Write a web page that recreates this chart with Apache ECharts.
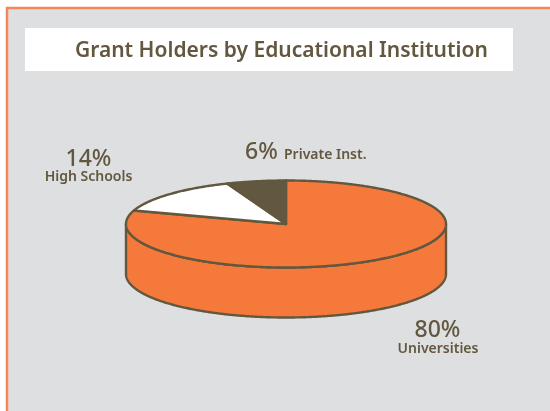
<!DOCTYPE html>
<html>
<head>
<meta charset="utf-8">
<style>html,body{margin:0;padding:0;background:#fff}#chart{width:550px;height:411px}</style>
<script src="https://cdn.jsdelivr.net/npm/echarts@6/dist/echarts.min.js"></script>
</head>
<body>
<div id="chart"></div>
<script>
// Share of grant holders per institution type, clockwise from twelve o'clock
const institutions = ['Universities', 'High Schools', 'Private Inst.'];
const shares = [80, 14, 6];
const sliceColors = ['#F5793B', '#FFFFFF', '#62573F'];
const chartTitle = 'Grant Holders by Educational Institution';

const INK = '#62573F';
const FONT = '"Noto Sans", "Open Sans", sans-serif';
const PIE = { cx: 286, cy: 224, rx: 160, ry: 43.5, depth: 50 };

// Cumulative start of every slice, used to place it around the disc
const starts = shares.map((_, i) => shares.slice(0, i).reduce((a, b) => a + b, 0));
const total = shares.reduce((a, b) => a + b, 0);

function rimPoint(deg, drop) {
  const t = deg * Math.PI / 180;
  return [PIE.cx + PIE.rx * Math.sin(t), PIE.cy - PIE.ry * Math.cos(t) + (drop || 0)];
}
function arcPoints(from, to, drop) {
  const pts = [];
  const steps = Math.max(2, Math.ceil(Math.abs(to - from) * 2));
  for (let i = 0; i <= steps; i++) pts.push(rimPoint(from + (to - from) * i / steps, drop));
  return pts;
}

function renderSlice(params, api) {
  const share = api.value(0);
  const start = api.value(1);
  const a0 = start / total * 360;
  const a1 = (start + share) / total * 360;
  const fill = sliceColors[params.dataIndex];
  const style = { fill, stroke: INK, lineWidth: 2.4, lineJoin: 'round' };
  const children = [];

  // Side wall: only the front half of the rim faces the viewer
  const w0 = Math.max(a0, 90);
  const w1 = Math.min(a1, 270);
  if (w1 > w0) {
    children.push({
      type: 'polygon',
      shape: { points: arcPoints(w0, w1, 0).concat(arcPoints(w1, w0, PIE.depth)) },
      style
    });
  }
  // Top face wedge
  children.push({
    type: 'polygon',
    shape: { points: [[PIE.cx, PIE.cy]].concat(arcPoints(a0, a1, 0)) },
    style
  });
  return { type: 'group', children };
}

function caption(text, x, y, size, align, weight) {
  return {
    type: 'text', x, y, z: 10,
    style: { text, fill: INK, font: `${weight} ${size}px ${FONT}`, align: align || 'center', verticalAlign: 'middle' }
  };
}

const chart = echarts.init(document.getElementById('chart'), null, { renderer: 'canvas' });
chart.setOption({
  animation: false,
  backgroundColor: '#FFFFFF',
  title: {
    text: chartTitle, left: 75, top: 37,
    padding: 0,
    textStyle: { color: INK, fontFamily: FONT, fontSize: 21, fontWeight: 600, lineHeight: 28 }, z: 10
  },
  graphic: [
    { type: 'rect', shape: { x: 7, y: 8, width: 560, height: 420 }, style: { fill: '#DEDFE1', stroke: '#F5845A', lineWidth: 2.5 }, z: -2 },
    { type: 'rect', shape: { x: 25, y: 28, width: 488, height: 43 }, style: { fill: '#FFFFFF' }, z: -1 },
    caption(shares[1] + '%', 88.5, 159, 23, 'center', 500),
    caption(institutions[1], 88.5, 177, 14, 'center', 600),
    caption(shares[2] + '%', 245, 152, 23, 'left', 500),
    caption(institutions[2], 284, 155, 14, 'left', 600),
    caption(shares[0] + '%', 437.5, 330, 23, 'center', 500),
    caption(institutions[0], 438, 349, 14, 'center', 600)
  ],
  series: [{
    type: 'custom',
    coordinateSystem: 'none',
    renderItem: renderSlice,
    data: shares.map((v, i) => ({ name: institutions[i], value: [v, starts[i]] }))
  }]
});
</script>
</body>
</html>
